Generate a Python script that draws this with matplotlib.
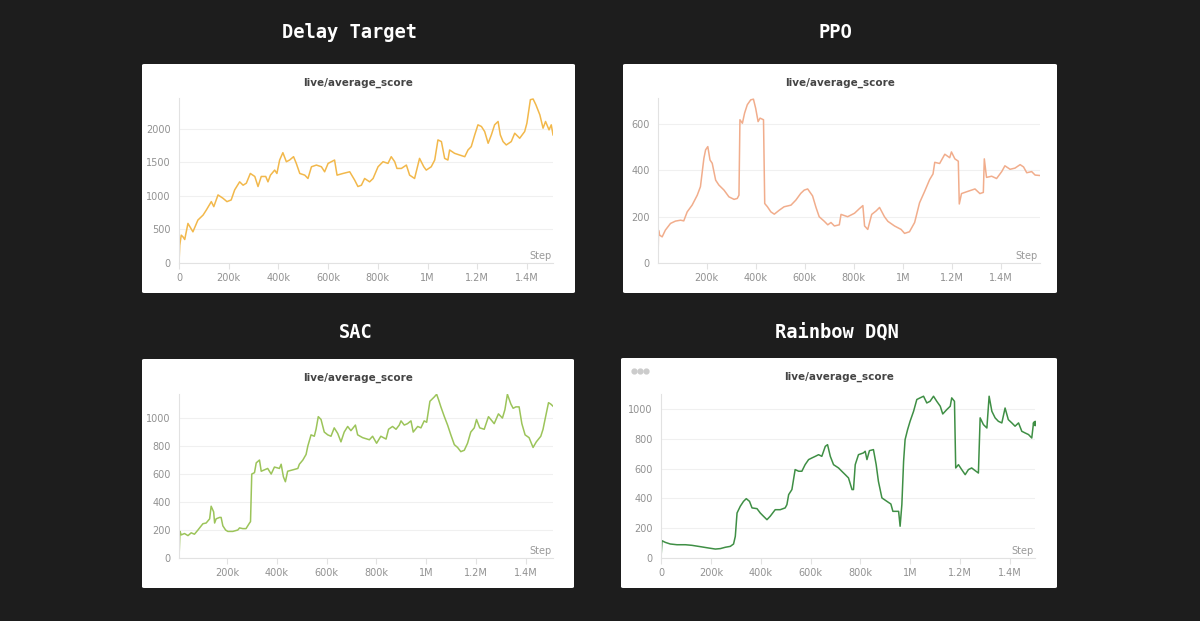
import matplotlib.pyplot as plt
from matplotlib.patches import FancyBboxPatch
from matplotlib.lines import Line2D
from matplotlib.ticker import FuncFormatter

# --- data (steps in thousands) ---
delay_steps = [0, 3, 9, 16, 23, 36, 56, 76, 97, 110, 130, 140, 157, 177, 193, 210, 224, 244, 258, 271,
               287, 305, 318, 331, 349, 358, 368, 385, 394, 405, 418, 432, 445, 461, 472, 486, 506, 519,
               533, 553, 573, 586, 600, 613, 626, 636, 660, 687, 707, 720, 734, 747, 767, 781, 801, 821,
               841, 854, 868, 877, 895, 915, 928, 948, 968, 985, 995, 1015, 1029, 1042, 1056, 1069, 1082,
               1089, 1109, 1129, 1150, 1163, 1176, 1190, 1203, 1217, 1230, 1244, 1257, 1270, 1284, 1293,
               1304, 1317, 1337, 1351, 1371, 1391, 1400, 1414, 1425, 1436, 1452, 1465, 1475, 1489, 1498, 1505]
delay_score = [0, 265, 415, 390, 350, 590, 465, 640, 715, 790, 915, 840, 1015, 965, 915, 940, 1090, 1210,
               1160, 1190, 1335, 1290, 1140, 1290, 1290, 1210, 1310, 1385, 1335, 1535, 1645, 1510, 1535,
               1585, 1485, 1335, 1310, 1260, 1435, 1460, 1435, 1360, 1485, 1510, 1535, 1310, 1335, 1360,
               1235, 1140, 1160, 1260, 1210, 1260, 1435, 1510, 1485, 1585, 1510, 1410, 1410, 1460, 1310,
               1260, 1560, 1435, 1385, 1435, 1535, 1835, 1810, 1560, 1535, 1685, 1635, 1610, 1585, 1685,
               1735, 1910, 2060, 2035, 1960, 1785, 1910, 2060, 2110, 1910, 1810, 1760, 1810, 1935, 1860,
               1960, 2085, 2435, 2445, 2360, 2210, 2010, 2110, 1985, 2060, 1910]

ppo_steps = [2, 4, 9, 19, 32, 53, 73, 94, 107, 121, 141, 162, 175, 189, 196, 205, 214, 223, 237, 250,
             271, 291, 312, 325, 332, 336, 346, 355, 366, 380, 391, 400, 410, 418, 432, 437, 448, 462,
             476, 496, 516, 544, 564, 584, 598, 612, 632, 646, 659, 680, 694, 707, 721, 741, 748, 775,
             803, 823, 837, 844, 857, 873, 891, 905, 925, 939, 966, 993, 1007, 1027, 1048, 1068, 1089,
             1109, 1123, 1130, 1150, 1171, 1191, 1198, 1212, 1226, 1230, 1239, 1266, 1294, 1314, 1328,
             1332, 1341, 1362, 1382, 1403, 1416, 1437, 1457, 1478, 1492, 1505, 1525, 1539, 1559]
ppo_score = [0, 142, 120, 113, 142, 171, 181, 185, 182, 221, 250, 293, 330, 452, 489, 503, 445, 431,
             358, 337, 315, 286, 275, 279, 293, 619, 604, 648, 684, 705, 708, 669, 611, 626, 619, 257,
             243, 221, 211, 228, 243, 250, 272, 301, 315, 320, 290, 240, 200, 180, 165, 175, 160, 165,
             210, 200, 215, 235, 248, 160, 145, 210, 225, 240, 200, 180, 160, 145, 128, 135, 175, 260,
             310, 360, 385, 435, 430, 470, 455, 480, 450, 440, 255, 300, 310, 320, 300, 305, 450, 370,
             375, 365, 395, 420, 405, 410, 425, 415, 390, 395, 380, 378]

sac_steps = [8, 12, 17, 30, 44, 57, 70, 84, 104, 117, 131, 137, 147, 151, 157, 171, 177, 184, 195, 204,
             224, 244, 251, 264, 277, 291, 295, 300, 311, 318, 331, 338, 351, 364, 378, 391, 411, 418,
             427, 435, 444, 465, 485, 491, 505, 518, 525, 538, 551, 558, 567, 578, 591, 605, 618, 631,
             645, 658, 671, 685, 698, 716, 725, 745, 772, 785, 801, 818, 839, 849, 865, 879, 892, 899,
             912, 925, 939, 948, 966, 979, 992, 1002, 1015, 1032, 1042, 1050, 1059, 1073, 1086, 1099,
             1113, 1126, 1139, 1153, 1166, 1179, 1193, 1202, 1215, 1233, 1250, 1264, 1273, 1290, 1306,
             1316, 1326, 1340, 1349, 1360, 1373, 1384, 1397, 1413, 1429, 1442, 1460, 1469, 1477, 1491,
             1500, 1509]
sac_score = [0, 190, 165, 175, 160, 180, 170, 200, 245, 250, 280, 370, 330, 250, 280, 290, 290, 230, 200,
             190, 190, 200, 215, 210, 210, 250, 260, 600, 610, 680, 700, 620, 630, 640, 600, 650, 640,
             670, 580, 545, 620, 630, 640, 670, 700, 740, 800, 880, 870, 920, 1010, 990, 900, 880, 870,
             930, 890, 830, 900, 940, 910, 950, 880, 860, 845, 870, 820, 870, 850, 920, 940, 920, 950,
             980, 950, 960, 980, 900, 940, 930, 980, 970, 1120, 1150, 1170, 1130, 1080, 1010, 950, 880,
             810, 790, 760, 770, 820, 900, 930, 990, 930, 920, 1010, 980, 960, 1030, 1000, 1060, 1170,
             1100, 1070, 1080, 1080, 960, 880, 860, 790, 830, 870, 920, 990, 1110, 1100, 1085]

dqn_steps = [0, 4, 17, 37, 64, 98, 124, 158, 191, 218, 238, 258, 278, 291, 298, 305, 318, 331, 342, 355,
             365, 385, 398, 411, 425, 438, 458, 478, 498, 505, 512, 525, 538, 552, 565, 578, 592, 605,
             619, 632, 645, 659, 668, 679, 692, 712, 725, 739, 752, 766, 772, 779, 792, 812, 819, 826,
             836, 852, 863, 872, 886, 906, 922, 930, 953, 959, 966, 973, 979, 989, 999, 1013, 1026, 1039,
             1053, 1066, 1079, 1093, 1106, 1120, 1130, 1146, 1160, 1166, 1177, 1182, 1193, 1206, 1220,
             1233, 1246, 1260, 1273, 1280, 1293, 1307, 1316, 1327, 1340, 1353, 1367, 1380, 1393, 1407,
             1420, 1434, 1447, 1460, 1474, 1487, 1494, 1500]
dqn_score = [0, 116, 105, 94, 89, 89, 85, 76, 67, 60, 63, 72, 78, 94, 145, 302, 347, 380, 398, 380, 336,
             331, 302, 280, 257, 280, 324, 324, 336, 358, 425, 459, 593, 582, 582, 626, 660, 671, 682,
             693, 682, 749, 760, 682, 626, 604, 582, 559, 537, 459, 459, 626, 693, 705, 716, 660, 720,
             727, 626, 514, 403, 380, 362, 313, 313, 213, 358, 649, 794, 861, 917, 984, 1063, 1074, 1085,
             1040, 1051, 1085, 1051, 1018, 966, 995, 1018, 1074, 1051, 604, 626, 593, 559, 593, 604, 586,
             570, 940, 895, 872, 1085, 984, 940, 917, 906, 1006, 928, 906, 884, 906, 850, 839, 828, 805,
             906, 906]

panels = [
    ("Delay Target", delay_steps, delay_score, "#f2b84b", [0, 500, 1000, 1500, 2000], 2460, True),
    ("PPO", ppo_steps, ppo_score, "#f1ad8c", [0, 200, 400, 600], 713, False),
    ("SAC", sac_steps, sac_score, "#9cc45a", [0, 200, 400, 600, 800, 1000], 1172, False),
    ("Rainbow DQN", dqn_steps, dqn_score, "#3f8f45", [0, 200, 400, 600, 800, 1000], 1100, True),
]

# white cards and axes rectangles, in pixels of the 1200x621 picture
cards = [(142, 64, 575, 293), (623, 64, 1057, 293), (142, 359, 574, 588), (621, 358, 1057, 588)]
axes_px = [(179, 98, 553, 263), (658, 98, 1040, 263), (179, 394, 553, 558), (661, 394, 1035, 558)]
titles_xy = [(350, 33), (835, 33), (356, 332), (837, 332)]

W, H = 1200, 621
fig = plt.figure(figsize=(12, 6.21), dpi=100)
fig.patch.set_facecolor("#1d1d1d")


def fmt_step(v, pos):
    if v == 0:
        return "0"
    if v >= 1000:
        s = f"{v / 1000:.1f}".rstrip("0").rstrip(".")
        return s + "M"
    return f"{int(v)}k"


for i, (name, xs, ys, col, yt, ytop, show_zero) in enumerate(panels):
    x0, y0, x1, y1 = cards[i]
    fig.patches.append(FancyBboxPatch((x0 / W, 1 - y1 / H), (x1 - x0) / W, (y1 - y0) / H,
                                      boxstyle="round,pad=0,rounding_size=0.002",
                                      transform=fig.transFigure, facecolor="white",
                                      edgecolor="none", zorder=-5))
    tx, ty = titles_xy[i]
    fig.text(tx / W, 1 - ty / H, name, color="white", fontsize=13.5, fontweight="bold",
             family="DejaVu Sans Mono", ha="center", va="center")
    fig.text((x0 + x1) / 2 / W, 1 - (y0 + 19) / H, "live/average_score", color="#444444",
             fontsize=7.5, fontweight="bold", ha="center", va="center")

    ax0, ay0, ax1, ay1 = axes_px[i]
    ax = fig.add_axes([ax0 / W, 1 - ay1 / H, (ax1 - ax0) / W, (ay1 - ay0) / H])
    ax.set_facecolor("none")
    ax.plot(xs, ys, color=col, lw=1.1)
    if name == "Rainbow DQN":
        ax.plot(xs[-1:], ys[-1:], "o", color=col, ms=3)
    ax.set_xlim(xs[0], xs[-1])
    ax.set_ylim(0, ytop)
    xt = [0, 200, 400, 600, 800, 1000, 1200, 1400] if show_zero else [200, 400, 600, 800, 1000, 1200, 1400]
    ax.set_xticks(xt)
    ax.xaxis.set_major_formatter(FuncFormatter(fmt_step))
    ax.set_yticks(yt)
    ax.grid(axis="y", color="#f0f0f0", lw=0.8)
    ax.set_axisbelow(True)
    for s in ["top", "right"]:
        ax.spines[s].set_visible(False)
    for s in ["left", "bottom"]:
        ax.spines[s].set_color("#e2e2e2")
        ax.spines[s].set_linewidth(0.8)
    ax.tick_params(axis="both", colors="#e2e2e2", labelcolor="#919191", labelsize=7, length=4, width=0.8)
    ax.tick_params(axis="y", length=0, pad=6)
    ax.text(0.995, 0.015, "Step", transform=ax.transAxes, ha="right", va="bottom",
            color="#999999", fontsize=7)

# small "..." menu marker in the last card
fig.lines.append(Line2D([634 / W, 640 / W, 646 / W], [1 - 371 / H] * 3, transform=fig.transFigure,
                        ls="none", marker="o", ms=3.5, color="#cccccc", zorder=3))

fig.savefig("out.png", dpi=100, facecolor=fig.get_facecolor())
